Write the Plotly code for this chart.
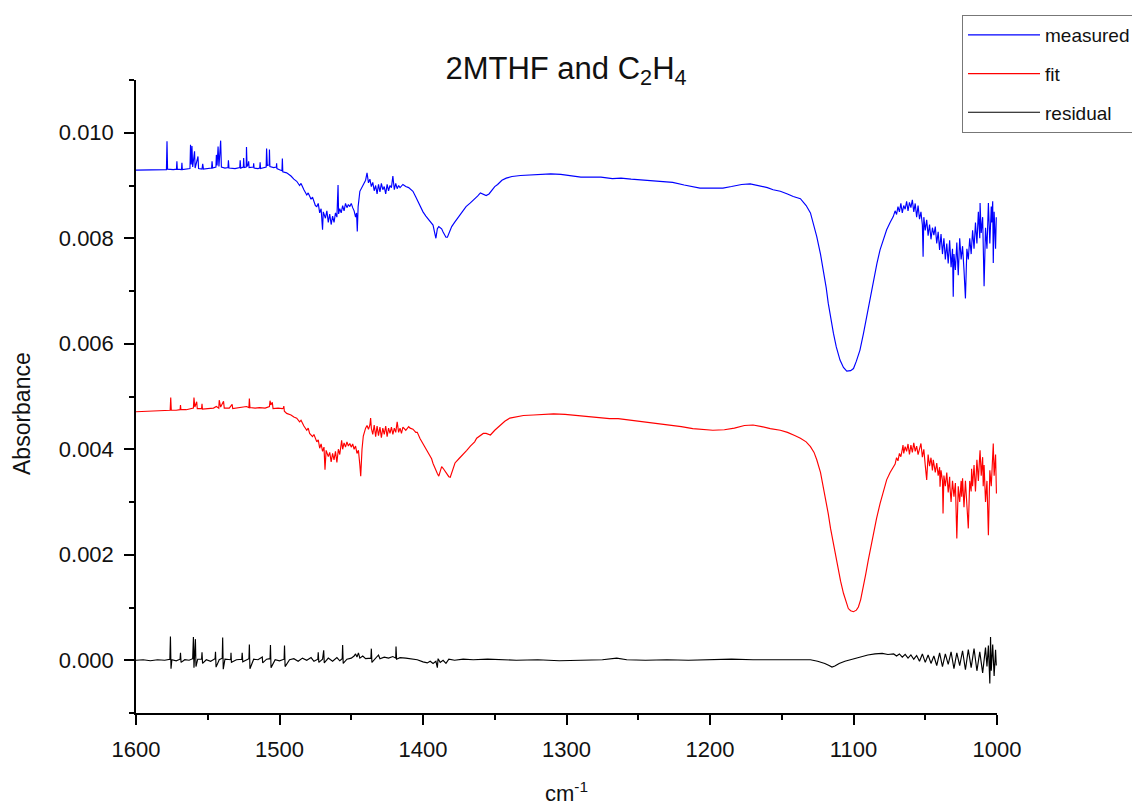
import plotly.graph_objects as go

# ---------------- data ----------------
x_meas = [1600, 1590, 1580, 1578.8, 1578.4, 1578, 1574, 1571.8, 1571.5, 1571.2, 1568.3, 1568, 1567.7, 1565,
          1562.4, 1562, 1561.5, 1561, 1560.5, 1559.2, 1558.8, 1556.8, 1556.4, 1554, 1553.5, 1553, 1549,
          1547.3, 1547, 1546.6, 1544.3, 1544, 1543.5, 1542.8, 1542.2, 1541, 1540.5, 1538, 1535.9, 1535.6,
          1535.2, 1531, 1527.7, 1527.4, 1527, 1525.2, 1525, 1524.6, 1523.2, 1523, 1522.6, 1521.8, 1521.5,
          1521.2, 1518.2, 1518, 1517.7, 1515, 1513.8, 1513.5, 1513.2, 1509.3, 1509, 1508.5, 1507.2, 1507,
          1506.7, 1504, 1502.2, 1502, 1501.8, 1500, 1498.3, 1498, 1497.7, 1495,
          1492, 1490, 1488, 1486, 1485, 1483, 1481, 1480, 1478, 1477, 1475, 1474, 1473, 1472, 1471, 1470,
          1469.5, 1468, 1467, 1466, 1465, 1464, 1463, 1462, 1461, 1460, 1459.2, 1458.8, 1458, 1457, 1456,
          1455, 1454, 1453, 1452, 1451, 1450, 1449, 1448, 1447, 1446.3, 1445.8, 1445.2, 1444, 1442, 1440,
          1439, 1438, 1437, 1436, 1435, 1434, 1433, 1432, 1431, 1430, 1429, 1428, 1427, 1426, 1425, 1424,
          1423, 1422, 1421, 1420, 1419, 1418, 1417, 1416, 1414, 1412, 1410, 1408, 1407, 1405, 1403, 1402,
          1400, 1398, 1396, 1394, 1393, 1392, 1391, 1390, 1389, 1388, 1387, 1386, 1385, 1384, 1383, 1382,
          1381, 1380, 1378, 1376, 1374, 1372, 1370, 1367, 1364, 1362, 1360, 1358, 1356, 1354, 1352, 1350,
          1348, 1345, 1342, 1338, 1332, 1325, 1318, 1311, 1304, 1296, 1290, 1283, 1276, 1268, 1262, 1255,
          1245, 1235, 1226, 1218, 1212, 1207, 1200, 1191, 1185, 1178, 1172, 1166, 1160, 1156, 1151, 1146,
          1142, 1137, 1133, 1130, 1127.5, 1125.6, 1123, 1121, 1119, 1117.6, 1116, 1114, 1112, 1109.4,
          1107, 1104.7, 1102, 1100, 1098, 1095.5, 1093, 1090.8, 1088.5, 1086, 1083.7, 1081.5, 1079,
          1076.9, 1074.5, 1072.3,
          1071, 1070, 1069, 1068, 1067, 1066, 1065, 1064, 1063, 1062, 1061, 1060, 1059, 1058, 1057, 1056,
          1055, 1054, 1053, 1052, 1051.5, 1051, 1050, 1049, 1048, 1047, 1046, 1045, 1044, 1043, 1042, 1041,
          1040, 1039, 1038, 1037, 1036, 1035, 1034, 1033, 1032, 1031, 1030.5, 1030, 1029, 1028, 1027, 1026,
          1025, 1024, 1023, 1022, 1021, 1020, 1019, 1018, 1017, 1016, 1015, 1014, 1013, 1012, 1011.8, 1011,
          1010, 1009, 1008, 1007, 1006, 1005, 1004, 1003.7, 1003, 1002.6, 1002, 1001, 1000.5]
y_meas = [0.00929, 0.00929, 0.00929, 0.00930, 0.00984, 0.00931, 0.00930, 0.00931, 0.00946, 0.00931, 0.00930,
          0.00943, 0.00930, 0.00931, 0.00932, 0.00977, 0.00940, 0.00975, 0.00935, 0.00965, 0.00933, 0.00955,
          0.00932, 0.00931, 0.00941, 0.00931, 0.00932, 0.00933, 0.00946, 0.00933, 0.00935, 0.00958, 0.00938,
          0.00974, 0.00936, 0.00985, 0.00935, 0.00933, 0.00934, 0.00948, 0.00933, 0.00932, 0.00934, 0.00948,
          0.00933, 0.00935, 0.00952, 0.00934, 0.00935, 0.00973, 0.00936, 0.00940, 0.00946, 0.00934, 0.00935,
          0.00942, 0.00933, 0.00932, 0.00933, 0.00944, 0.00932, 0.00935, 0.00970, 0.00938, 0.00939, 0.00968,
          0.00936, 0.00934, 0.00935, 0.00942, 0.00932, 0.00930, 0.00928, 0.00951, 0.00926, 0.00924,
          0.00918, 0.00912, 0.00908, 0.00900, 0.00904, 0.00892, 0.00882, 0.00886, 0.00874, 0.00878, 0.00862,
          0.00860, 0.00866, 0.00848, 0.00856, 0.00816, 0.00850, 0.00838, 0.00852, 0.00830, 0.00846, 0.00826,
          0.00842, 0.00830, 0.00848, 0.00840, 0.00901, 0.00846, 0.00856, 0.00848, 0.00862, 0.00852, 0.00866,
          0.00858, 0.00864, 0.00860, 0.00866, 0.00858, 0.00852, 0.00840, 0.00848, 0.00813, 0.00860, 0.00889,
          0.00900, 0.00910, 0.00924, 0.00905, 0.00912, 0.00898, 0.00906, 0.00890, 0.00900, 0.00884, 0.00902,
          0.00888, 0.00904, 0.00892, 0.00898, 0.00884, 0.00902, 0.00890, 0.00900, 0.00896, 0.00918, 0.00892,
          0.00904, 0.00894, 0.00900, 0.00896, 0.00902, 0.00898, 0.00896, 0.00890, 0.00889, 0.00878, 0.00866,
          0.00860, 0.00850, 0.00842, 0.00836, 0.00828, 0.00825, 0.00812, 0.00800, 0.00818, 0.00822, 0.00820,
          0.00818, 0.00812, 0.00806, 0.00802, 0.00802, 0.00808, 0.00816, 0.00822, 0.00830, 0.00838, 0.00844,
          0.00852, 0.00860, 0.00867, 0.00874, 0.00880, 0.00886, 0.00884, 0.00881, 0.00884, 0.00892, 0.00898,
          0.00902, 0.00910, 0.00914, 0.00917, 0.00919, 0.00920, 0.00921, 0.00922, 0.00921, 0.00918, 0.00916,
          0.00916, 0.00916, 0.00913, 0.00914, 0.00912, 0.00910, 0.00908, 0.00906, 0.00901, 0.00897, 0.00895,
          0.00895, 0.00895, 0.00898, 0.00902, 0.00903, 0.00900, 0.00896, 0.00892, 0.00889, 0.00884, 0.00879,
          0.00875, 0.00862, 0.00848, 0.00825, 0.00803, 0.00770, 0.00740, 0.00706, 0.00677, 0.00650, 0.00620,
          0.00594, 0.00569, 0.00555, 0.00548, 0.00549, 0.00553, 0.00567, 0.00588, 0.00620, 0.00651, 0.00687,
          0.00721, 0.00752, 0.00778, 0.00800, 0.00816, 0.00830, 0.00841,
          0.00852, 0.00845, 0.00860, 0.00850, 0.00866, 0.00848, 0.00862, 0.00855, 0.00870, 0.00852, 0.00868,
          0.00858, 0.00873, 0.00850, 0.00866, 0.00840, 0.00862, 0.00836, 0.00850, 0.00825, 0.00765, 0.00840,
          0.00815, 0.00835, 0.00805, 0.00826, 0.00798, 0.00820, 0.00806, 0.00822, 0.00790, 0.00812, 0.00778,
          0.00808, 0.00770, 0.00800, 0.00760, 0.00790, 0.00752, 0.00796, 0.00745, 0.00780, 0.00689, 0.00770,
          0.00740, 0.00792, 0.00730, 0.00800, 0.00760, 0.00785, 0.00740, 0.00686, 0.00780, 0.00760, 0.00800,
          0.00770, 0.00815, 0.00780, 0.00830, 0.00790, 0.00850, 0.00800, 0.00867, 0.00810, 0.00840, 0.00709,
          0.00820, 0.00780, 0.00867, 0.00790, 0.00860, 0.00830, 0.00870, 0.00753, 0.00850, 0.00780, 0.00840]

x_fit = [1600, 1590, 1580, 1576.2, 1575.8, 1575.4, 1572, 1569.3, 1569, 1568.7, 1565, 1562, 1560, 1559.6, 1559,
         1557.7, 1557.3, 1554.3, 1554, 1553.7, 1550, 1546, 1544, 1542.3, 1542, 1541, 1539, 1538.5, 1535,
         1533, 1532.6, 1529, 1526, 1523, 1521.3, 1521, 1520.6, 1517, 1514, 1510, 1507, 1506.6, 1506, 1505,
         1504.5, 1501, 1498, 1497.2, 1497, 1496.6, 1495,
         1492, 1490, 1488, 1486, 1485, 1483, 1481, 1480, 1479, 1477, 1476, 1474, 1473, 1472, 1471, 1470,
         1469, 1468.3, 1467.5, 1466, 1465, 1464, 1463, 1462, 1461, 1460, 1459, 1458, 1457, 1456.7, 1456,
         1455, 1454, 1453, 1452, 1451, 1450, 1449, 1448, 1447, 1446, 1445, 1444, 1443.4, 1442.5, 1441.6,
         1440, 1439, 1438, 1437, 1436.5, 1436, 1435, 1434, 1433, 1432, 1431, 1430, 1429, 1428, 1427, 1426,
         1425, 1424, 1423, 1422, 1421, 1420, 1419, 1418, 1417, 1416, 1415, 1414, 1412, 1410, 1409, 1407,
         1405, 1404, 1402, 1400, 1398, 1396, 1394, 1393, 1392, 1391, 1390, 1389, 1388, 1387, 1386, 1385,
         1384, 1383, 1382, 1381, 1380, 1379, 1377.7, 1375, 1372, 1369.5, 1367, 1364, 1362.6, 1360, 1358,
         1356, 1353, 1350, 1346, 1343, 1339.5, 1335, 1330, 1323, 1316, 1309, 1301, 1293, 1285, 1277, 1270,
         1264, 1258, 1250, 1240, 1230, 1220, 1212, 1205, 1198, 1190, 1183, 1176, 1170, 1164, 1158, 1151,
         1146, 1141, 1137, 1133, 1130, 1127.5, 1125.6, 1123, 1121, 1119, 1117.6, 1116, 1114, 1112, 1110.6,
         1109, 1107, 1105, 1103.6, 1102, 1100, 1098, 1096.6, 1095, 1093, 1091.5, 1089.7, 1088, 1086, 1084,
         1081.5, 1079, 1076.9, 1074.5, 1072.3,
         1071, 1070, 1069, 1068, 1067, 1066, 1065.5, 1065, 1064, 1063, 1062, 1061, 1060, 1059, 1058, 1057,
         1056, 1055, 1054, 1053, 1052, 1051, 1050, 1049, 1048, 1047, 1046, 1045, 1044.4, 1043, 1042, 1041,
         1040, 1039.7, 1039, 1038, 1037.6, 1037, 1036, 1035, 1034, 1033, 1032.8, 1032, 1031, 1030, 1029,
         1028, 1027, 1026, 1025, 1024.6, 1024, 1023, 1022, 1021, 1020, 1019, 1018, 1017.7, 1017, 1016, 1015,
         1014, 1013, 1012, 1011.8, 1011, 1010, 1009.6, 1009, 1008, 1007, 1006, 1005, 1004, 1003, 1002.6,
         1002, 1001, 1000.4]
y_fit = [0.00471, 0.00472, 0.00473, 0.00474, 0.00498, 0.00474, 0.00474, 0.00475, 0.00484, 0.00475, 0.00475,
         0.00476, 0.00478, 0.00498, 0.00480, 0.00490, 0.00477, 0.00477, 0.00486, 0.00476, 0.00477, 0.00478,
         0.00481, 0.00478, 0.00493, 0.00480, 0.00491, 0.00478, 0.00478, 0.00485, 0.00477, 0.00478, 0.00479,
         0.00481, 0.00479, 0.00496, 0.00479, 0.00478, 0.00479, 0.00478, 0.00481, 0.00492, 0.00484, 0.00489,
         0.00477, 0.00478, 0.00477, 0.00478, 0.00482, 0.00472, 0.00468,
         0.00465, 0.00461, 0.00459, 0.00452, 0.00455, 0.00444, 0.00436, 0.00440, 0.00430, 0.00424, 0.00428,
         0.00414, 0.00418, 0.00402, 0.00410, 0.00396, 0.00404, 0.00361, 0.00398, 0.00386, 0.00394, 0.00376,
         0.00392, 0.00380, 0.00396, 0.00375, 0.00400, 0.00390, 0.00405, 0.00417, 0.00400, 0.00412, 0.00404,
         0.00414, 0.00406, 0.00411, 0.00404, 0.00410, 0.00400, 0.00406, 0.00392, 0.00398, 0.00370, 0.00349,
         0.00400, 0.00425, 0.00440, 0.00445, 0.00438, 0.00446, 0.00459, 0.00440, 0.00428, 0.00446, 0.00424,
         0.00444, 0.00426, 0.00442, 0.00422, 0.00440, 0.00428, 0.00444, 0.00424, 0.00440, 0.00430, 0.00442,
         0.00428, 0.00440, 0.00432, 0.00452, 0.00432, 0.00440, 0.00430, 0.00442, 0.00436, 0.00443, 0.00440,
         0.00438, 0.00432, 0.00432, 0.00420, 0.00411, 0.00400, 0.00392, 0.00382, 0.00373, 0.00366, 0.00360,
         0.00354, 0.00349, 0.00360, 0.00367, 0.00364, 0.00360, 0.00354, 0.00350, 0.00348, 0.00347, 0.00356,
         0.00366, 0.00374, 0.00382, 0.00390, 0.00398, 0.00406, 0.00414, 0.00421, 0.00426, 0.00430, 0.00430,
         0.00427, 0.00436, 0.00446, 0.00453, 0.00459, 0.00462, 0.00464, 0.00465, 0.00466, 0.00467, 0.00466,
         0.00464, 0.00463, 0.00461, 0.00458, 0.00458, 0.00456, 0.00453, 0.00450, 0.00447, 0.00443, 0.00439,
         0.00437, 0.00436, 0.00437, 0.00440, 0.00445, 0.00446, 0.00443, 0.00439, 0.00436, 0.00432, 0.00426,
         0.00421, 0.00414, 0.00405, 0.00394, 0.00380, 0.00356, 0.00329, 0.00300, 0.00278, 0.00250, 0.00221,
         0.00195, 0.00171, 0.00150, 0.00127, 0.00110, 0.00098, 0.00094, 0.00092, 0.00095, 0.00101, 0.00115,
         0.00139, 0.00163, 0.00190, 0.00215, 0.00240, 0.00268, 0.00297, 0.00322, 0.00342, 0.00356, 0.00367,
         0.00372, 0.00384, 0.00378, 0.00392, 0.00386, 0.00400, 0.00408, 0.00392, 0.00405, 0.00396, 0.00410,
         0.00390, 0.00408, 0.00394, 0.00412, 0.00396, 0.00406, 0.00390, 0.00404, 0.00411, 0.00385, 0.00400,
         0.00370, 0.00342, 0.00390, 0.00368, 0.00384, 0.00360, 0.00380, 0.00356, 0.00374, 0.00350, 0.00366,
         0.00329, 0.00360, 0.00340, 0.00278, 0.00350, 0.00330, 0.00356, 0.00318, 0.00348, 0.00330, 0.00300,
         0.00340, 0.00310, 0.00336, 0.00231, 0.00330, 0.00300, 0.00340, 0.00310, 0.00345, 0.00290, 0.00340,
         0.00300, 0.00250, 0.00340, 0.00320, 0.00363, 0.00330, 0.00370, 0.00320, 0.00380, 0.00340, 0.00390,
         0.00398, 0.00350, 0.00385, 0.00330, 0.00370, 0.00300, 0.00340, 0.00237, 0.00360, 0.00330, 0.00395,
         0.00411, 0.00350, 0.00390, 0.00316]

x_res = [1600, 1595, 1590, 1585, 1580, 1576.4, 1576, 1575.6, 1575, 1572, 1569.3, 1569, 1568.6, 1566, 1563,
         1560.5, 1560, 1559.6, 1558.6, 1558.2, 1557, 1554.3, 1554, 1553.6, 1551, 1548, 1544.9, 1544.6, 1544.2,
         1542, 1539.9, 1539.6, 1539.2, 1538, 1534, 1533.8, 1533.5, 1530, 1526.3, 1526, 1525.6, 1523, 1521.3,
         1521, 1520.6, 1518, 1515, 1512, 1511.7, 1509, 1506.6, 1506.3, 1505.9, 1503, 1500, 1496.8, 1496.5,
         1496.1, 1493, 1490, 1487, 1484, 1481, 1478, 1476, 1473.3, 1473, 1472.6, 1470, 1469.2, 1468.8, 1466,
         1463, 1460, 1458, 1456.3, 1456, 1455.6, 1453, 1450, 1448, 1447, 1446, 1445, 1444, 1442, 1440, 1436.3,
         1436, 1435.6, 1433, 1431, 1430, 1427, 1424, 1421, 1419, 1418.8, 1418.4, 1416, 1412, 1408, 1404, 1400,
         1397, 1395, 1393, 1391, 1390, 1389.5, 1388, 1386, 1384, 1382, 1378, 1372, 1365, 1355, 1345, 1335,
         1320, 1305, 1290, 1275, 1265, 1258, 1245, 1230, 1215, 1200, 1185, 1170, 1155, 1140, 1130, 1125, 1120,
         1117, 1115, 1113, 1110, 1106, 1100, 1095, 1090, 1085, 1080, 1076, 1072, 1070, 1068, 1066, 1064, 1062,
         1060, 1058, 1056, 1054, 1052, 1050, 1048, 1046, 1044, 1042, 1040, 1038, 1036, 1034, 1032, 1030, 1028,
         1026, 1024, 1022, 1020, 1018, 1016, 1014, 1012, 1010, 1008, 1007, 1006, 1005, 1004.5, 1004, 1003,
         1002, 1001, 1000.5]
y_res = [0.00000, 0.00001, -0.00001, 0.00001, 0.00000, 0.00002, 0.00045, -0.00016, 0.00001, -0.00001, 0.00002,
         0.00014, -0.00004, 0.00001, 0.00000, 0.00003, 0.00044, -0.00014, 0.00040, -0.00012, 0.00002, 0.00002,
         0.00015, -0.00006, 0.00001, -0.00002, 0.00003, 0.00016, -0.00013, 0.00001, 0.00004, 0.00043, -0.00017,
         0.00002, 0.00001, 0.00014, -0.00004, 0.00001, 0.00002, 0.00014, -0.00003, 0.00000, 0.00003, 0.00030,
         -0.00016, 0.00002, 0.00001, 0.00006, -0.00005, 0.00002, 0.00003, 0.00029, -0.00014, 0.00001, -0.00001,
         0.00002, 0.00028, -0.00012, 0.00001, 0.00003, -0.00002, 0.00004, 0.00000, 0.00005, -0.00002, 0.00002,
         0.00015, -0.00004, 0.00002, 0.00019, -0.00005, 0.00004, -0.00002, 0.00005, -0.00001, 0.00003, 0.00029,
         -0.00006, 0.00002, 0.00004, 0.00008, 0.00012, 0.00006, 0.00014, 0.00004, 0.00008, 0.00003, 0.00004,
         0.00022, -0.00004, 0.00005, 0.00010, 0.00003, 0.00006, 0.00004, 0.00007, 0.00004, 0.00026, 0.00002,
         0.00005, 0.00004, 0.00003, 0.00001, -0.00003, -0.00005, -0.00002, -0.00006, -0.00002, -0.00014,
         0.00003, -0.00004, 0.00000, -0.00006, 0.00002, 0.00000, 0.00002, 0.00001, 0.00002, 0.00001, 0.00000,
         0.00001, -0.00001, 0.00000, 0.00001, 0.00004, 0.00001, 0.00000, 0.00001, 0.00000, 0.00001, 0.00002,
         0.00001, 0.00001, 0.00000, 0.00001, -0.00002, -0.00006, -0.00010, -0.00013, -0.00011, -0.00006,
         -0.00002, 0.00003, 0.00007, 0.00010, 0.00012, 0.00013, 0.00011, 0.00012, 0.00008, 0.00012, 0.00006,
         0.00011, 0.00004, 0.00010, 0.00002, 0.00009, -0.00002, 0.00012, -0.00004, 0.00010, -0.00006, 0.00008,
         -0.00010, 0.00014, -0.00012, 0.00012, -0.00008, 0.00016, -0.00016, 0.00014, -0.00010, 0.00018,
         -0.00018, 0.00020, -0.00014, 0.00022, -0.00020, 0.00016, -0.00024, 0.00024, -0.00012, 0.00028,
         -0.00044, 0.00044, -0.00020, 0.00030, -0.00030, 0.00020, -0.00010]

series_names = ["measured", "fit", "residual"]
series_colors = ["#0000ff", "#ff0000", "#000000"]

x_ticks = [1600, 1500, 1400, 1300, 1200, 1100, 1000]
y_ticks = [0.000, 0.002, 0.004, 0.006, 0.008, 0.010]

# ---------------- figure ----------------
# the page body has an 8px default margin, so the figure is laid out 8px smaller
W, H = 1132, 797
FONT = "Liberation Sans, Arial, sans-serif"
TXT = "#111"
fig = go.Figure()
for name, xs, ys, col in zip(series_names, [x_meas, x_fit, x_res], [y_meas, y_fit, y_res], series_colors):
    fig.add_trace(go.Scatter(x=xs, y=ys, mode="lines", name=name, legendgroup=name,
                             line=dict(color=col, width=1.15)))

axis_common = dict(showline=True, linecolor="#000", linewidth=1.5, ticks="outside", tickcolor="#000",
                   tickwidth=1.5, ticklen=10, showgrid=False, zeroline=False, mirror=False,
                   ticklabelstandoff=6,
                   tickfont=dict(family=FONT, size=22, color=TXT))

fig.update_xaxes(range=[1600, 1000], tickvals=x_ticks, ticktext=[str(v) for v in x_ticks],
                 minor=dict(ticks="outside", ticklen=5, tickwidth=1.5, tickcolor="#000", dtick=50, tick0=1000),
                 **axis_common)
fig.update_yaxes(range=[-0.001, 0.011], tickvals=y_ticks, ticktext=[f"{v:.3f}" for v in y_ticks],
                 minor=dict(ticks="outside", ticklen=5, tickwidth=1.5, tickcolor="#000", dtick=0.001, tick0=0),
                 **axis_common)

fig.update_layout(
    width=W, height=H,
    margin=dict(l=128, r=143, t=72, b=92, autoexpand=False),
    paper_bgcolor="white", plot_bgcolor="white",
    font=dict(family=FONT, color=TXT),
    title=dict(text="2MTHF and C<sub>2</sub>H<sub>4</sub>", x=(566 - 8) / W, xanchor="center",
               y=1 - 60 / H, yanchor="middle", yref="container",
               font=dict(family=FONT, size=31, color=TXT)),
    legend=dict(x=(962 - 136) / 861, xanchor="left", y=1 + (80 - 15) / 633, yanchor="top",
                bordercolor="#777", borderwidth=1, bgcolor="white", itemwidth=72,
                tracegroupgap=11, font=dict(family=FONT, size=19, color=TXT)),
    showlegend=True,
    annotations=[
        dict(text="cm<sup>-1</sup>", xref="paper", yref="paper", x=0.5, y=-(792 - 713) / 633,
             xanchor="center", yanchor="middle", showarrow=False,
             font=dict(family=FONT, size=22, color=TXT)),
        dict(text="Absorbance", xref="paper", yref="paper", x=-(136 - 22) / 861, y=(713 - 414) / 633,
             xanchor="center", yanchor="middle", textangle=-90, showarrow=False,
             font=dict(family=FONT, size=23, color=TXT)),
    ],
)

fig.write_html("out.html")
